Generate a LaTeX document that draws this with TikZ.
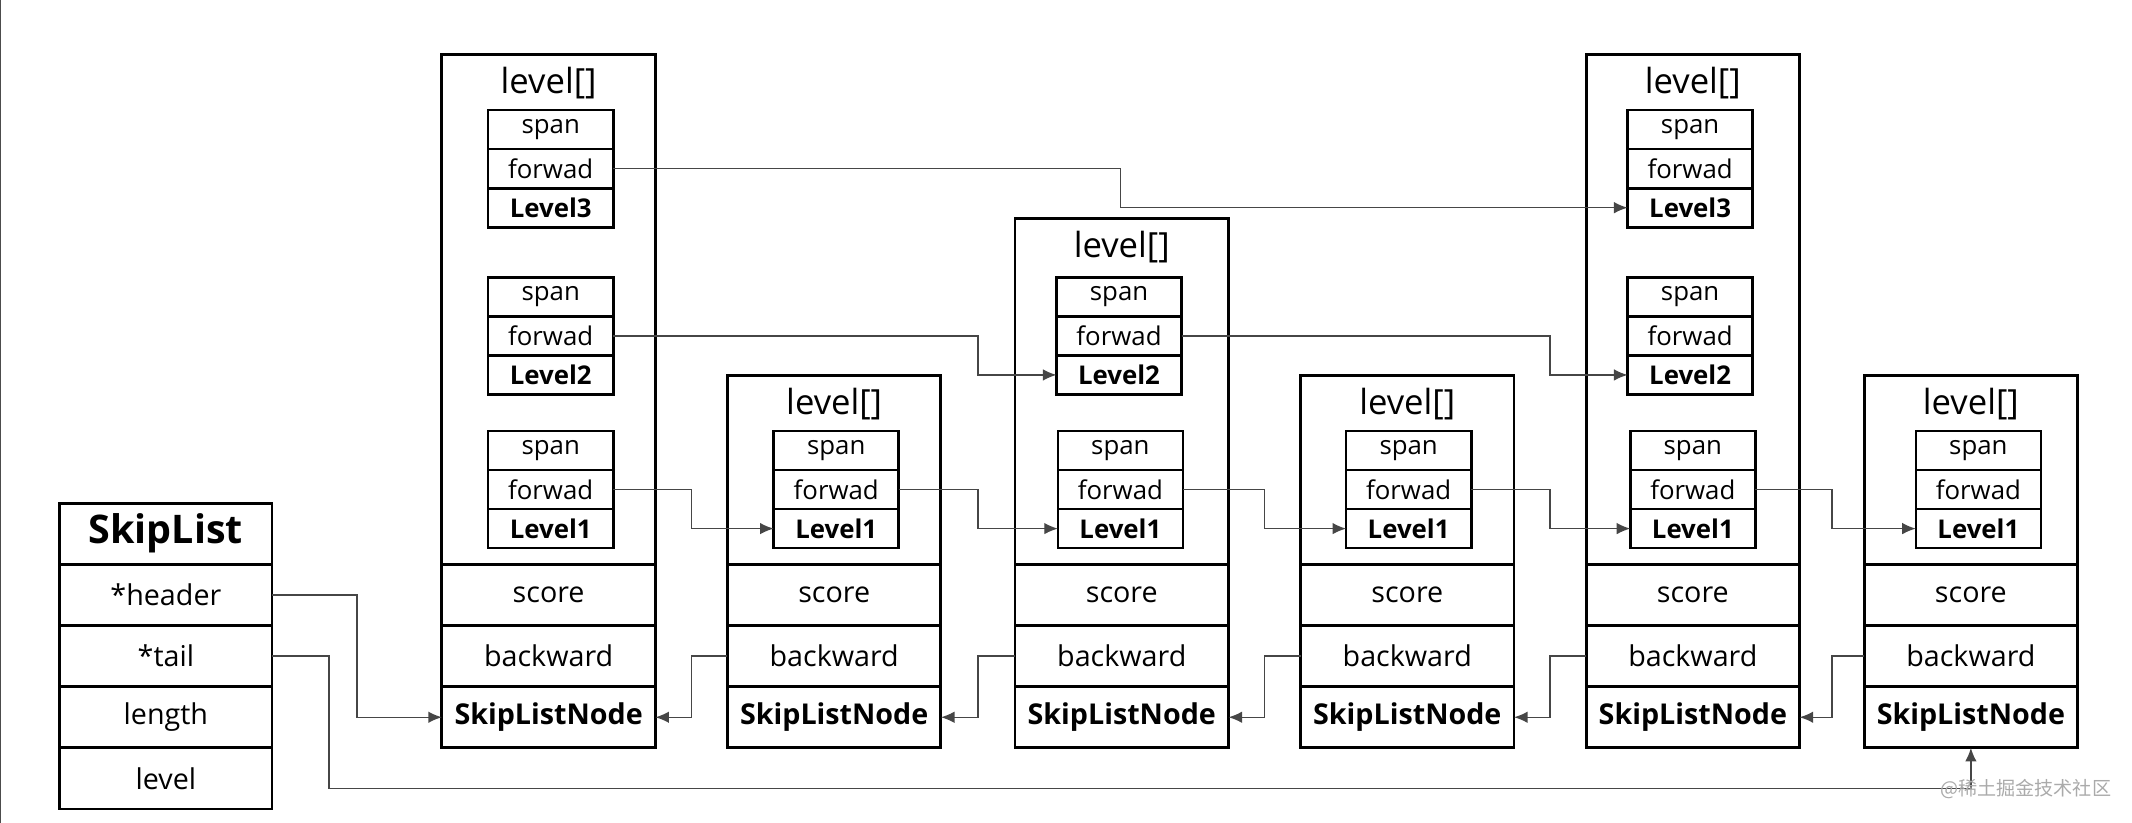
\documentclass[tikz,border=0pt]{standalone}
\usepackage{fontspec}
\setmainfont{Open Sans}
\newfontfamily\cjkfont{Noto Sans CJK SC}
\usetikzlibrary{positioning,arrows.meta,calc}
\definecolor{linkgray}{RGB}{70,70,70}
\definecolor{markgray}{RGB}{170,170,170}
\tikzset{
  colbox/.style={draw, line width=1.2pt, minimum width=31.4mm, inner sep=0pt, outer sep=0pt, anchor=north},
  cell/.style={draw, line width=1.2pt, minimum width=31.4mm, minimum height=9mm, inner sep=0pt, outer sep=0pt,
               font=\fontsize{12}{14}\selectfont},
  boldcell/.style={cell, font=\fontsize{12}{14}\selectfont\bfseries},
  lvtitle/.style={font=\fontsize{14.5}{16}\selectfont, inner sep=0pt},
  lvcell/.style={draw, line width=1.1pt, minimum width=18.4mm, minimum height=5.74mm, inner sep=0pt, outer sep=0pt,
                 font=\fontsize{10.8}{12}\selectfont},
  lvbold/.style={lvcell, font=\fontsize{10.8}{12}\selectfont\bfseries},
  link/.style={draw=linkgray, line width=0.6pt, -{Latex[length=2mm,width=1.7mm]}}
}

\begin{document}
\begin{tikzpicture}[x=0.2mm, y=-0.2mm]
  \useasboundingbox (0,0) rectangle (1568,605);
  % left edge of the frame
  \draw[black!70, line width=0.5pt] (0.6,0) -- (0.6,605);

  % SkipList struct
  \node[cell, minimum width=31.2mm, font=\fontsize{16.5}{18}\selectfont\bfseries, anchor=north west] (sl) at (44,370) {SkipList};
  \node[cell, minimum width=31.2mm, below=0pt of sl] (slhead) {*header};
  \node[cell, minimum width=31.2mm, below=0pt of slhead] (sltail) {*tail};
  \node[cell, minimum width=31.2mm, below=0pt of sltail] (sllen) {length};
  \node[cell, minimum width=31.2mm, below=0pt of sllen] (sllvl) {level};

  % skip list nodes
  \foreach \n/\x/\t in {0/403.5/40, 1/613.5/276, 2/825/161, 3/1035/276, 4/1245/40, 5/1449.5/276}{
    \pgfmathsetmacro\h{(550-\t)*0.2}
    \node[colbox, minimum height=\h mm] (col\n) at (\x,\t) {};
    \node[lvtitle] (title\n) at (\x,\t+21) {level[]};
    \node[cell, anchor=north] (score\n) at (\x,415) {score};
    \node[cell, below=0pt of score\n] (back\n) {backward};
    \node[boldcell, below=0pt of back\n] (node\n) {SkipListNode};
  }

  % level entries
  \foreach \n/\x/\k/\t in {0/405/3/81, 0/405/2/204, 0/405/1/317, 1/615/1/317, 2/823/2/204, 2/824/1/317,
                           3/1036/1/317, 4/1243/3/81, 4/1243/2/204, 4/1245/1/317, 5/1455/1/317}{
    \node[lvcell, anchor=north] (span\n\k) at (\x,\t) {span};
    \node[lvcell, below=0pt of span\n\k] (fwd\n\k) {forwad};
    \node[lvbold, below=0pt of fwd\n\k] (lv\n\k) {Level\k};
  }

  % bend points between the columns
  \coordinate (g01) at ($(col0.east)!0.5!(col1.west)$);
  \coordinate (g12) at ($(col1.east)!0.5!(col2.west)$);
  \coordinate (g23) at ($(col2.east)!0.5!(col3.west)$);
  \coordinate (g34) at ($(col3.east)!0.5!(col4.west)$);
  \coordinate (g45) at ($(col4.east)!0.5!(col5.west)$);
  \coordinate (g04) at ($(col0.east)!0.5!(col4.west)$);
  \coordinate (hb) at ($(slhead.east)!0.5!(node0.west)$);
  \coordinate (tb) at (242,580);

  % forward pointers
  \draw[link] (fwd03.east) -- (fwd03.east -| g04) |- (lv43.west);
  \draw[link] (fwd02.east) -- (fwd02.east -| g12) |- (lv22.west);
  \draw[link] (fwd22.east) -- (fwd22.east -| g34) |- (lv42.west);
  \foreach \a/\b in {0/1, 1/2, 2/3, 3/4, 4/5}
    \draw[link] (fwd\a1.east) -- (fwd\a1.east -| g\a\b) |- (lv\b1.west);

  % backward pointers
  \foreach \a/\b in {0/1, 1/2, 2/3, 3/4, 4/5}
    \draw[link] (back\b.west) -- (back\b.west -| g\a\b) |- (node\a.east);

  % header and tail
  \draw[link] (slhead.east) -- (slhead.east -| hb) |- (node0.west);
  \draw[link] (sltail.east) -| (tb) -| (node5.south);

  \node[font=\cjkfont\fontsize{8}{9}\selectfont, text=markgray, anchor=east, inner sep=0pt] (mark) at (1553,580) {@稀土掘金技术社区};
\end{tikzpicture}
\end{document}
